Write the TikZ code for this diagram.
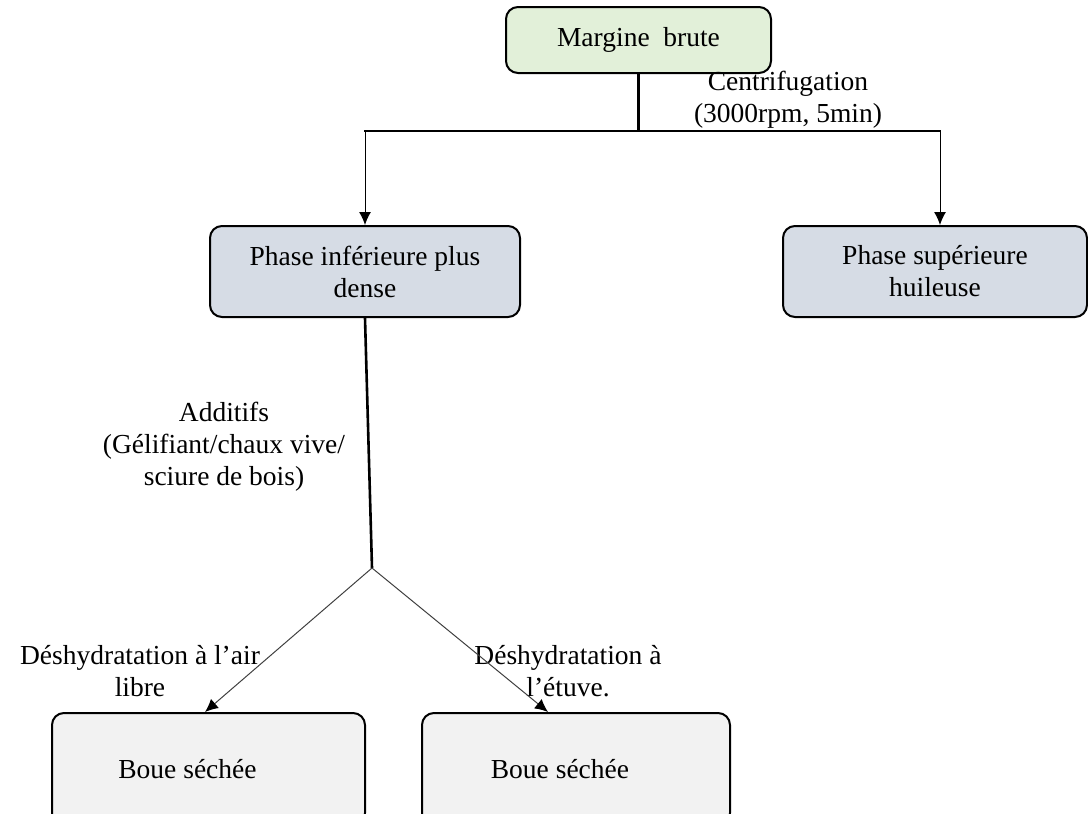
\documentclass[tikz,border=0pt]{standalone}
\usepackage{fontspec}
\setmainfont{Liberation Serif}
\usetikzlibrary{arrows.meta}
\definecolor{greenfill}{RGB}{226,240,217}
\definecolor{bluefill}{RGB}{214,220,229}
\definecolor{greyfill}{RGB}{242,242,242}
\tikzset{
  box/.style={draw=black, line width=2pt, rounded corners=12pt, align=center, inner sep=0pt},
  lbl/.style={align=center, inner sep=0pt},
  thickline/.style={line width=2.6pt},
  arr/.style={line width=1pt, -{Latex[length=13pt,width=12pt]}},
  diag/.style={line width=1pt, draw=black!75, -{Latex[length=13pt,width=12pt]}, arrows={-{Latex[length=13pt,width=12pt,color=black]}}}
}
\begin{document}
\begin{tikzpicture}[x=1pt,y=-1pt, font=\fontsize{27.5}{32}\selectfont]
\useasboundingbox (0,0) rectangle (1088,814);
\begin{scope}
\clip (0,0) rectangle (1088,814);
\node[box, fill=greenfill, minimum width=265pt, minimum height=66pt] (M) at (638.5,40) {Margine\ \ brute};
\node[box, fill=bluefill, minimum width=310pt, minimum height=91pt] (L) at (365,271.5) {Phase inférieure plus\\dense};
\node[box, fill=bluefill, minimum width=304pt, minimum height=91pt] (R) at (935,271.5) {Phase supérieure\\huileuse};
\node[box, fill=greyfill, minimum width=313pt, minimum height=112pt] (B1) at (208.5,769) {Boue séchée\hspace*{42pt}};
\node[box, fill=greyfill, minimum width=308pt, minimum height=112pt] (B2) at (576,769) {Boue séchée\hspace*{32pt}};
\end{scope}

\node[lbl] (c) at (788,100) {Centrifugation\\(3000rpm, 5min)};
\node[lbl] (a) at (224,447) {Additifs\\(Gélifiant/chaux vive/\\sciure de bois)};
\node[lbl] (d1) at (140,671) {Déshydratation à l’air\\libre};
\node[lbl] (d2) at (568,671) {Déshydratation à\\l’étuve.};

\coordinate (hl) at (365,131);
\coordinate (hr) at (940,131);
\coordinate (j) at (372,568);

\draw[thickline] (M.south) -- (M.south |- hl);
\draw[thickline] ([xshift=-1pt]hl) -- ([xshift=1pt]hr);
\draw[arr] (hl) -- (hl |- L.north);
\draw[arr] (hr) -- (hr |- R.north);
\draw[thickline] (L.south) -- (j);
\draw[diag] (j) -- ([xshift=-3.5pt]B1.north);
\draw[diag] (j) -- ([xshift=-28pt]B2.north);
\end{tikzpicture}
\end{document}
